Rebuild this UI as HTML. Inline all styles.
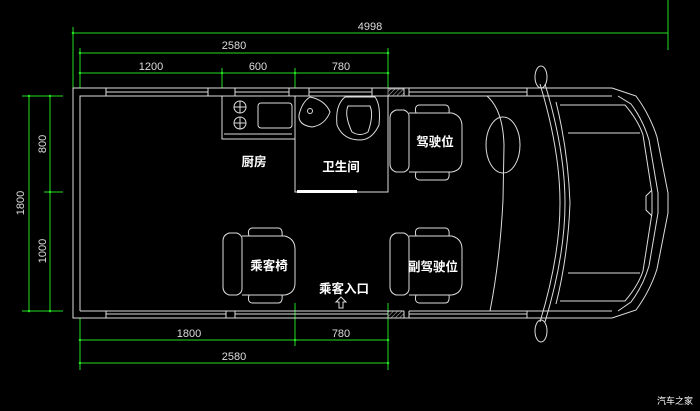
<!DOCTYPE html>
<html><head><meta charset="utf-8"><style>
html,body{margin:0;padding:0;background:#000;}
svg{display:block}
text{font-family:"Liberation Sans","Noto Sans CJK SC",sans-serif;fill:#fff;}
.d{font-family:"Liberation Sans Narrow","Liberation Sans",sans-serif;font-size:11px;fill:#ddd;}
</style></head><body>
<svg width="700" height="411" viewBox="0 0 700 411" xmlns="http://www.w3.org/2000/svg">
<defs>
<pattern id="h" width="3" height="3" patternUnits="userSpaceOnUse" patternTransform="rotate(45)"><line x1="0" y1="0" x2="0" y2="3" stroke="#bbb" stroke-width="1"/></pattern>
<g id="seat" fill="none" stroke="#ddd" stroke-width="1">
<path d="M6,6 Q0,8 0,14 L0,60 Q0,66 6,68 L14,68 Q19,66 19,62 L19,12 Q19,8 14,6 Z"/>
<path d="M19,9 L62,9 Q72,12 72,22 L72,56 Q72,66 62,68 L19,68"/>
<path d="M26,9 Q24,2 29,1 L55,1 Q60,1 59,9"/>
<path d="M26,68 Q24,75 29,76 L55,76 Q60,76 59,68"/>
</g>
</defs>
<g stroke="#22dd22" stroke-width="1" fill="none">
<line x1="73" y1="33" x2="668" y2="33"/>
<line x1="73" y1="27" x2="73" y2="88"/>
<line x1="668" y1="0" x2="668" y2="50"/>
<line x1="80" y1="53" x2="388" y2="53"/>
<line x1="80" y1="73" x2="388" y2="73"/>
<line x1="80" y1="48" x2="80" y2="88"/>
<line x1="388" y1="48" x2="388" y2="88"/>
<line x1="222" y1="68" x2="222" y2="88"/>
<line x1="295" y1="68" x2="295" y2="88"/>
<line x1="29" y1="96" x2="29" y2="311"/>
<line x1="50" y1="96" x2="50" y2="311"/>
<line x1="22" y1="96" x2="63" y2="96"/>
<line x1="44" y1="192" x2="63" y2="192"/>
<line x1="22" y1="311" x2="63" y2="311"/>
<line x1="80" y1="340" x2="388" y2="340"/>
<line x1="80" y1="363" x2="388" y2="363"/>
<line x1="80" y1="318" x2="80" y2="370"/>
<line x1="388" y1="303" x2="388" y2="370"/>
<line x1="295" y1="303" x2="295" y2="346"/>
</g>
<g fill="#22dd22">
<circle cx="73" cy="33" r="1.3"/><circle cx="80" cy="53" r="1.3"/><circle cx="388" cy="53" r="1.3"/>
<circle cx="80" cy="73" r="1.3"/><circle cx="222" cy="73" r="1.3"/><circle cx="295" cy="73" r="1.3"/><circle cx="388" cy="73" r="1.3"/>
<circle cx="29" cy="96" r="1.3"/><circle cx="29" cy="311" r="1.3"/><circle cx="50" cy="96" r="1.3"/><circle cx="50" cy="192" r="1.3"/><circle cx="50" cy="311" r="1.3"/>
<circle cx="80" cy="340" r="1.3"/><circle cx="295" cy="340" r="1.3"/><circle cx="388" cy="340" r="1.3"/><circle cx="80" cy="363" r="1.3"/><circle cx="388" cy="363" r="1.3"/>
</g>
<text class="d" x="370" y="30" text-anchor="middle">4998</text>
<text class="d" x="234" y="49" text-anchor="middle">2580</text>
<text class="d" x="151" y="70" text-anchor="middle">1200</text>
<text class="d" x="258" y="70" text-anchor="middle">600</text>
<text class="d" x="341" y="70" text-anchor="middle">780</text>
<text class="d" x="189" y="337" text-anchor="middle">1800</text>
<text class="d" x="341" y="337" text-anchor="middle">780</text>
<text class="d" x="234" y="360" text-anchor="middle">2580</text>
<text class="d" transform="translate(24,203) rotate(-90)" text-anchor="middle">1800</text>
<text class="d" transform="translate(46,144) rotate(-90)" text-anchor="middle">800</text>
<text class="d" transform="translate(46,251) rotate(-90)" text-anchor="middle">1000</text>
<g stroke="#ddd" stroke-width="1" fill="none">
<path d="M612,88 L73,88 L73,318 L612,318"/>
<path d="M80,311 L80,96 L388,96"/>
<path d="M80,311 L388,311"/>
<path d="M106,88 V96 M208,88 V96 M106,92 H208 M235,88 V96 M289,88 V96 M235,92 H289 M309,88 V96 M372,88 V96 M309,92 H372"/>
<path d="M106,318 V311 M226,318 V311 M106,314 H226 M235,318 V311 M226,311 H235 M235,314 H388"/>
<path d="M388,96 H404 M404,88 V96 M409,88 V96 M409,92 H527 M527,88 V96 M409,96 H612 M404,96 H409"/>
<path d="M388,311 H404 M404,311 V318 M409,311 V318 M409,314 H527 M527,311 V318 M409,311 H612"/>
<path d="M612,88 L636,96 Q650,115 657,137 L668,193 L668,213 L657,269 Q650,291 636,310 L612,318"/>
<path d="M618,96 L631,104 Q643,120 649,140 L658,193 L658,213 L649,266 Q643,286 631,302 L618,311"/>
<path d="M560,105 L625,105 Q638,120 643,135 L652,193 L652,213 L643,271 Q638,286 625,301 L560,301"/>
<path d="M568,133 L640,133 M568,273 L640,273"/>
<path d="M652,190 L646,196 L646,210 L652,216"/>
<path d="M545,84 Q565,150 565,203 Q565,256 545,322"/>
<path d="M540,84 Q560,150 560,203 Q560,256 540,322"/>
<path d="M556,102 Q568,150 570,203 Q568,256 556,304"/>
<path d="M487,96 Q503,110 504,145 L503,200 Q500,260 490,311"/>
<ellipse cx="503" cy="145" rx="17" ry="28"/>
<ellipse cx="541" cy="77" rx="6" ry="11"/>
<ellipse cx="541" cy="331" rx="6" ry="11"/>
<rect x="222" y="96" width="73" height="43"/>
<rect x="295" y="96" width="93" height="96"/>
<rect x="258" y="103" width="34" height="25" rx="3"/>
<circle cx="240" cy="107" r="6"/><circle cx="240" cy="123" r="6"/>
<path d="M234,107 H246 M240,101 V113 M234,123 H246 M240,117 V129"/>
<path d="M224,134 H292"/>
<path d="M310,97 Q325,100 330,112 Q325,125 312,127 Q298,125 299,115 Q302,102 310,97Z"/>
<circle cx="310" cy="111" r="2.5"/>
<path d="M345,97 L375,97 Q381,105 379,125 Q372,140 360,140 Q343,140 337,125 Q335,105 345,97Z"/>
<path d="M348,106 L370,106 Q374,115 368,132 Q360,137 352,132 Q344,115 348,106Z"/>
</g>
<rect x="297" y="190" width="60" height="3" fill="#fff"/>
<rect x="388" y="89" width="16" height="7" fill="url(#h)" stroke="#ddd" stroke-width="0.6"/>
<rect x="388" y="311" width="16" height="7" fill="url(#h)" stroke="#ddd" stroke-width="0.6"/>
<use href="#seat" x="390" y="104"/>
<use href="#seat" x="223" y="227"/>
<use href="#seat" x="390" y="227"/>
<g font-size="12.5" font-weight="bold">
<text x="254" y="166" text-anchor="middle">厨房</text>
<text x="341" y="171" text-anchor="middle">卫生间</text>
<text x="435" y="146" text-anchor="middle">驾驶位</text>
<text x="269" y="270" text-anchor="middle">乘客椅</text>
<text x="433" y="271" text-anchor="middle">副驾驶位</text>
<text x="344" y="293" text-anchor="middle">乘客入口</text>
</g>
<path d="M341,297 L336,302 H339 V308 H343 V302 H346 Z" fill="none" stroke="#ddd" stroke-width="1"/>
<text x="675" y="404" font-size="9" text-anchor="middle">汽车之家</text>
</svg>
</body></html>
